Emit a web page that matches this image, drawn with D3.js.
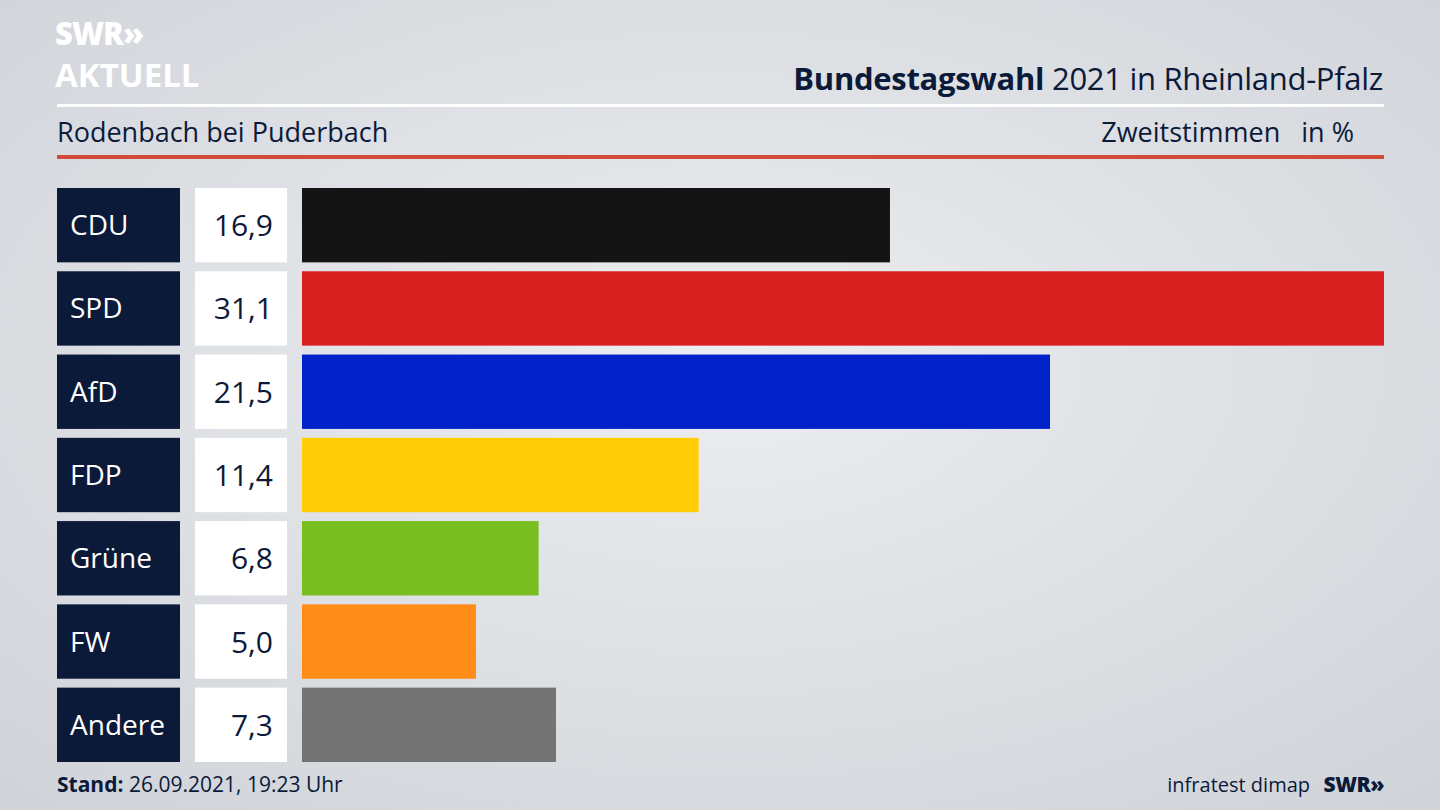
<!DOCTYPE html>
<html><head><meta charset="utf-8">
<script src="https://cdn.jsdelivr.net/npm/d3@7"></script>
<style>body{margin:0;overflow:hidden}svg{display:block}text{font-family:"Open Sans","Noto Sans",sans-serif}</style>
</head><body><svg id="c" width="1440" height="810"></svg>
<script>
const parties=["CDU","SPD","AfD","FDP","Grüne","FW","Andere"];
const values=[16.9,31.1,21.5,11.4,6.8,5.0,7.3];
const colors=["#141414","#d82020","#0022c8","#ffcc05","#78be1e","#ff8c17","#737373"];
const svg=d3.select("#c");
const defs=svg.append("defs");
const g=defs.append("radialGradient").attr("id","bg").attr("cx","50%").attr("cy","45%").attr("r","75%");
g.append("stop").attr("offset","0%").attr("stop-color","#eceef1");
g.append("stop").attr("offset","100%").attr("stop-color","#cfd2d7");
svg.append("rect").attr("width",1440).attr("height",810).attr("fill","url(#bg)");
// logo
svg.append("text").attr("x",55).attr("y",45).attr("fill","#fff").attr("font-size",31).attr("font-weight",800).attr("letter-spacing",-1).text("SWR»");
svg.append("text").attr("x",55).attr("y",87).attr("fill","#fff").attr("font-size",33).attr("font-weight",700).text("AKTUELL");
const t=svg.append("text").attr("x",1383).attr("y",90).attr("text-anchor","end").attr("fill","#0c1a3a").attr("font-size",31).attr("letter-spacing",-0.3);
t.append("tspan").attr("font-weight",700).text("Bundestagswahl");
t.append("tspan").text(" 2021 in Rheinland-Pfalz");
svg.append("rect").attr("x",57).attr("y",104).attr("width",1327).attr("height",3).attr("fill","#fff");
svg.append("text").attr("x",57).attr("y",142).attr("fill","#0c1a3a").attr("font-size",27).text("Rodenbach bei Puderbach");
svg.append("text").attr("x",1354).attr("y",142).attr("text-anchor","end").attr("fill","#0c1a3a").attr("font-size",27).attr("xml:space","preserve").text("Zweitstimmen   in %");
svg.append("rect").attr("x",57).attr("y",155).attr("width",1327).attr("height",4).attr("fill","#d24a3a");
const y=d3.scaleBand().domain(parties).range([188,762]).paddingInner(0.107).paddingOuter(0);
const x=d3.scaleLinear().domain([0,31.1]).range([302,1384]);
const row=svg.selectAll("g.r").data(parties).join("g");
row.append("rect").attr("x",57).attr("y",d=>y(d)).attr("width",123).attr("height",y.bandwidth()).attr("fill","#0c1a3a");
row.append("text").attr("x",70).attr("y",d=>y(d)+y.bandwidth()/2+10).attr("fill","#fff").attr("font-size",28).text(d=>d);
row.append("rect").attr("x",195).attr("y",d=>y(d)).attr("width",92).attr("height",y.bandwidth()).attr("fill","#fff");
row.append("text").attr("x",273).attr("y",d=>y(d)+y.bandwidth()/2+11).attr("text-anchor","end").attr("fill","#0c1a3a").attr("font-size",30).text((d,i)=>values[i].toFixed(1).replace(".",","));
row.append("rect").attr("x",x(0)).attr("y",d=>y(d)).attr("width",(d,i)=>x(values[i])-x(0)).attr("height",y.bandwidth()).attr("fill",(d,i)=>colors[i]);
const f=svg.append("text").attr("x",57).attr("y",792).attr("fill","#0c1a3a").attr("font-size",21);
f.append("tspan").attr("font-weight",700).text("Stand:");
f.append("tspan").text(" 26.09.2021, 19:23 Uhr");
svg.append("text").attr("x",1310).attr("y",792).attr("text-anchor","end").attr("fill","#0c1a3a").attr("font-size",20).text("infratest dimap");
svg.append("text").attr("x",1384).attr("y",792).attr("text-anchor","end").attr("fill","#0c1a3a").attr("font-size",21).attr("font-weight",800).attr("letter-spacing",-0.5).text("SWR»");
</script></body></html>
